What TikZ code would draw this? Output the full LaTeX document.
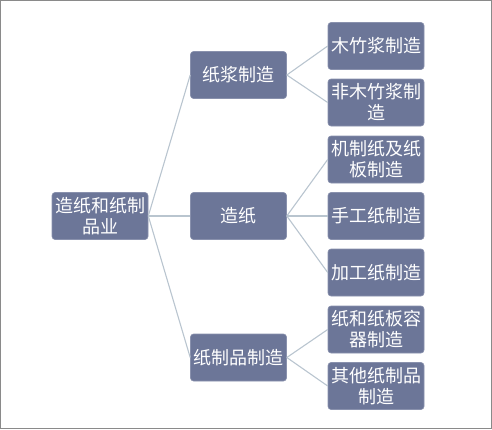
\documentclass[tikz,border=0pt]{standalone}
\usepackage{fontspec}
\newfontfamily\cjk{Noto Sans CJK SC}
\definecolor{boxfill}{HTML}{6C7698}
\definecolor{linkc}{HTML}{B9C5CF}
\definecolor{framec}{HTML}{8A8A8A}
\begin{document}
\begin{tikzpicture}[x=1pt,y=-1pt,
  cat/.style={draw=boxfill!80!white, line width=0.6pt, fill=boxfill, rounded corners=3pt,
    minimum width=96pt, minimum height=47pt, inner sep=1pt, text=white,
    font=\cjk\fontsize{18}{21}\selectfont, align=center, text width=94pt},
  link/.style={draw=linkc, line width=1.1pt}]
\useasboundingbox (0,0) rectangle (492,429);
\draw[framec, line width=1.2pt] (0.6,0.6) rectangle (491.4,428.4);
\node[cat] (root) at (100,216) {造纸和纸制\\品业};
\node[cat] (a) at (238.5,75) {纸浆制造};
\node[cat] (b) at (238.5,216) {造纸};
\node[cat] (c) at (238.5,357.5) {纸制品制造};
\node[cat] (a1) at (376,46) {木竹浆制造};
\node[cat] (a2) at (376,102.5) {非木竹浆制\\造};
\node[cat] (b1) at (376,159.5) {机制纸及纸\\板制造};
\node[cat] (b2) at (376,216) {手工纸制造};
\node[cat] (b3) at (376,272.5) {加工纸制造};
\node[cat] (c1) at (376,329.5) {纸和纸板容\\器制造};
\node[cat] (c2) at (376,386) {其他纸制品\\制造};
\foreach \t in {a,b,c} \draw[link] (root.east) -- (\t.west);
\foreach \t in {a1,a2} \draw[link] (a.east) -- (\t.west);
\foreach \t in {b1,b2,b3} \draw[link] (b.east) -- (\t.west);
\foreach \t in {c1,c2} \draw[link] (c.east) -- (\t.west);
\end{tikzpicture}
\end{document}
